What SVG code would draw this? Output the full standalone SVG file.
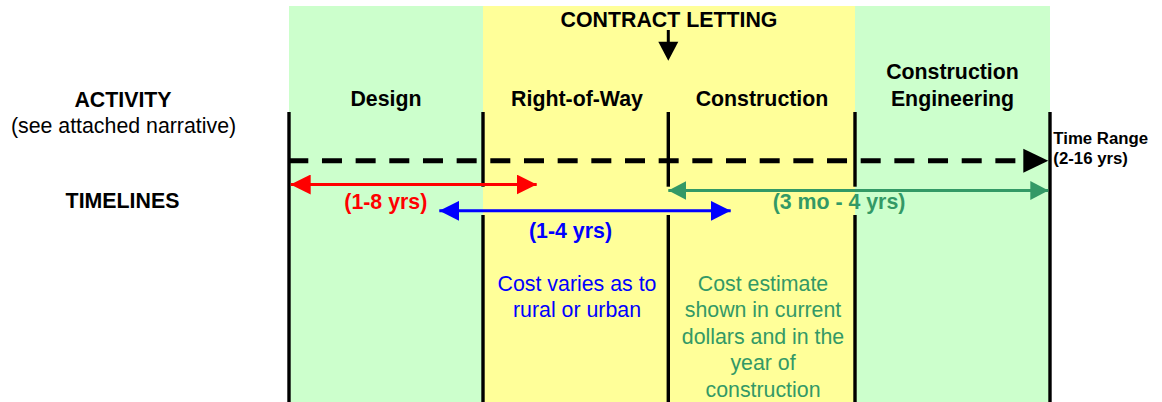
<svg xmlns="http://www.w3.org/2000/svg" width="1162" height="402" viewBox="0 0 1162 402">
  <style>
    text { font-family: "Liberation Sans", Arial, sans-serif; font-size: 21.33px; }
    .b { font-weight: bold; }
    .mid { text-anchor: middle; }
    .green-bg { fill: #CCFFCC; }
    .yellow-bg { fill: #FFFF99; }
    .divider { stroke: #000; stroke-width: 3.4; fill: none; }
    .red { fill: #FF0000; }
    .blue { fill: #0000FF; }
    .teal { fill: #339966; }
  </style>
  <defs>
    <marker id="head-red" viewBox="0 0 20 20" refX="20" refY="10" markerWidth="20" markerHeight="20" markerUnits="userSpaceOnUse" orient="auto-start-reverse">
      <path d="M0,0 L20,10 L0,20 Z" fill="#FF0000"/>
    </marker>
    <marker id="head-blue" viewBox="0 0 20 20" refX="20" refY="10" markerWidth="20" markerHeight="20" markerUnits="userSpaceOnUse" orient="auto-start-reverse">
      <path d="M0,0 L20,10 L0,20 Z" fill="#0000FF"/>
    </marker>
    <marker id="head-teal" viewBox="0 0 18 19" refX="18" refY="9.5" markerWidth="18" markerHeight="19" markerUnits="userSpaceOnUse" orient="auto-start-reverse">
      <path d="M0,0 L18,9.5 L0,19 Z" fill="#339966"/>
    </marker>
    <marker id="head-black" viewBox="0 0 25 24" refX="25" refY="12" markerWidth="25" markerHeight="24" markerUnits="userSpaceOnUse" orient="auto">
      <path d="M0,0 L25,12 L0,24 Z" fill="#000"/>
    </marker>
  </defs>

  <rect width="1162" height="402" fill="#FFFFFF"/>

  <!-- phase columns -->
  <g id="design">
    <rect class="green-bg" x="289" y="6" width="194" height="396"/>
    <text class="b mid" x="386" y="106">Design</text>
  </g>
  <g id="right-of-way">
    <rect class="yellow-bg" x="483" y="6" width="185" height="396"/>
    <text class="b mid" x="577" y="106">Right-of-Way</text>
    <text class="mid" x="577" y="291" fill="#0000FF">Cost varies as to</text>
    <text class="mid" x="577" y="317" fill="#0000FF">rural or urban</text>
  </g>
  <g id="construction">
    <rect class="yellow-bg" x="668" y="6" width="187" height="396"/>
    <text class="b mid" x="762" y="106">Construction</text>
    <text class="mid" x="763" y="290.7" fill="#339966">Cost estimate</text>
    <text class="mid" x="763" y="317.2" fill="#339966">shown in current</text>
    <text class="mid" x="763" y="343.7" fill="#339966">dollars and in the</text>
    <text class="mid" x="763" y="370.2" fill="#339966">year of</text>
    <text class="mid" x="763" y="396.7" fill="#339966">construction</text>
  </g>
  <g id="construction-engineering">
    <rect class="green-bg" x="855" y="6" width="195" height="396"/>
    <text class="b mid" x="952.5" y="79.3">Construction</text>
    <text class="b mid" x="952.5" y="106">Engineering</text>
  </g>

  <!-- row headings -->
  <g id="activity">
    <text class="b mid" x="123" y="106.5">ACTIVITY</text>
    <text class="mid" x="123.5" y="132.7">(see attached narrative)</text>
  </g>
  <g id="timelines">
    <text class="b mid" x="122.5" y="208.3">TIMELINES</text>
  </g>

  <g id="contract-letting">
    <text class="b mid" x="669" y="26.7">CONTRACT LETTING</text>
  </g>

  <g id="time-range">
    <text class="b" x="1053.3" y="144" style="font-size:16.8px">Time Range</text>
    <text class="b" x="1053.3" y="163.5" style="font-size:16.8px">(2-16 yrs)</text>
  </g>

  <!-- phase boundaries -->
  <g id="dividers">
    <line class="divider" x1="289" y1="112" x2="289" y2="402"/>
    <line class="divider" x1="483" y1="112" x2="483" y2="186.7"/>
    <line class="divider" x1="483" y1="215" x2="483" y2="402"/>
    <line class="divider" x1="668.3" y1="112" x2="668.3" y2="186.7"/>
    <line class="divider" x1="668.3" y1="215" x2="668.3" y2="402"/>
    <line class="divider" x1="855" y1="112" x2="855" y2="186.7"/>
    <line class="divider" x1="855" y1="215" x2="855" y2="402"/>
    <line class="divider" x1="1050" y1="112" x2="1050" y2="402"/>
  </g>

  <!-- connectors -->
  <g id="connectors">
    <!-- contract letting pointer -->
    <line x1="668.3" y1="30" x2="668.3" y2="43" stroke="#000" stroke-width="3"/>
    <path d="M658.3,41.7 L678.3,41.7 L668.3,60.7 Z" fill="#000"/>

    <!-- overall time range -->
    <line x1="288.3" y1="160.8" x2="1023.3" y2="160.8" stroke="#000" stroke-width="5" stroke-dasharray="20 13.67"/>
    <path d="M1023.3,148.8 L1048.3,160.8 L1023.3,172.8 Z" fill="#000"/>

    <!-- design span -->
    <line x1="290.7" y1="184.5" x2="536.7" y2="184.5" stroke="#FF0000" stroke-width="3" marker-start="url(#head-red)" marker-end="url(#head-red)"/>
    <!-- right-of-way span -->
    <line x1="439.3" y1="210.8" x2="730.7" y2="210.8" stroke="#0000FF" stroke-width="3" marker-start="url(#head-blue)" marker-end="url(#head-blue)"/>
    <!-- construction span -->
    <line x1="668.3" y1="190.5" x2="1048.3" y2="190.5" stroke="#339966" stroke-width="3.2" marker-start="url(#head-teal)" marker-end="url(#head-teal)"/>
  </g>

  <!-- span labels -->
  <g id="span-labels">
    <text class="b mid red" x="385.8" y="209.3">(1-8 yrs)</text>
    <text class="b mid blue" x="570.5" y="237.5">(1-4 yrs)</text>
    <text class="b mid teal" x="839" y="208.5">(3 mo - 4 yrs)</text>
  </g>
</svg>
